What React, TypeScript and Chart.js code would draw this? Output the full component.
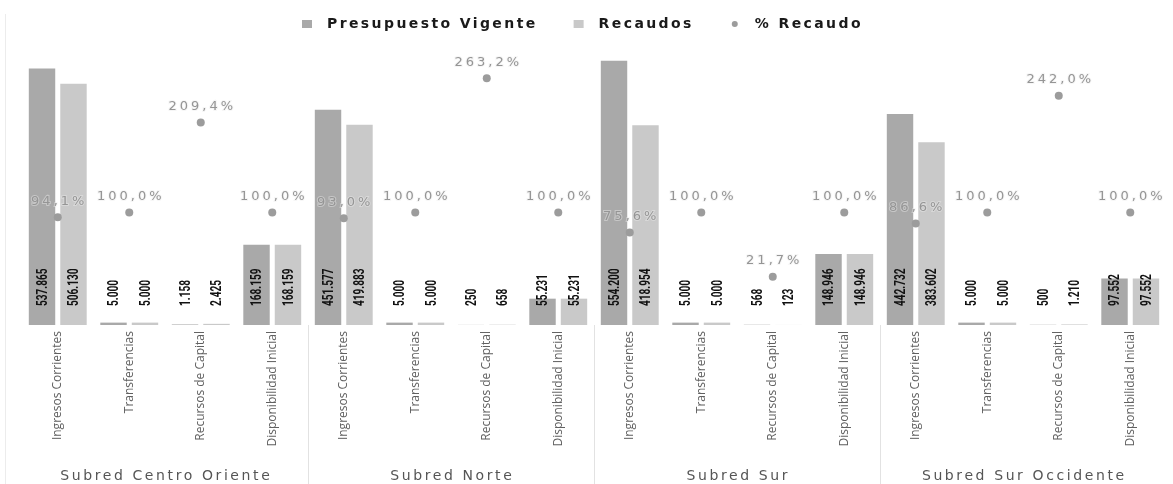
import React, { useEffect, useRef } from "react";
import { Chart, registerables } from "chart.js";

Chart.register(...registerables);

const groups = ["Subred Centro Oriente", "Subred Norte", "Subred Sur", "Subred Sur Occidente"];
const subcategories = ["Ingresos Corrientes", "Transferencias", "Recursos de Capital", "Disponibilidad Inicial"];
const presupuestoVigente = [537865, 5000, 1158, 168159, 451577, 5000, 250, 55231, 554200, 5000, 568, 148946, 442732, 5000, 500, 97552];
const recaudos = [506130, 5000, 2425, 168159, 419883, 5000, 658, 55231, 418954, 5000, 123, 148946, 383602, 5000, 1210, 97552];
const pctRecaudo = [94.1, 100.0, 209.4, 100.0, 93.0, 100.0, 263.2, 100.0, 75.6, 100.0, 21.7, 100.0, 86.6, 100.0, 242.0, 100.0];
const seriesNames = ["Presupuesto Vigente", "Recaudos", "% Recaudo"];

const categoryLabels = groups.flatMap((g) => subcategories.map((s) => [s, g]));

const fmtNum = (n: number) => String(n).replace(/\B(?=(\d{3})+(?!\d))/g, ".");
const fmtPct = (v: number) => v.toFixed(1).replace(".", ",") + "%";

const COLORS = ["#a9a9a9", "#c9c9c9", "#9c9c9c"];

const drawPlugin = {
  id: "customDraw",
  afterDatasetsDraw(chart: any) {
    const ctx = chart.ctx as CanvasRenderingContext2D;
    const area = chart.chartArea;
    const xScale = chart.scales.x;
    const yScale = chart.scales.y;
    const base = yScale.getPixelForValue(0);
    const n = categoryLabels.length;
    const step = (area.right - area.left) / n;

    // value labels on bars
    [0, 1].forEach((di) => {
      const meta = chart.getDatasetMeta(di);
      const values = di === 0 ? presupuestoVigente : recaudos;
      meta.data.forEach((el: any, i: number) => {
        ctx.save();
        ctx.translate(el.x, base - 19);
        ctx.rotate(-Math.PI / 2);
        ctx.scale(0.72, 1.05);
        ctx.font = "bold 14px Roboto, 'Liberation Sans', sans-serif";
        ctx.fillStyle = "#111";
        ctx.textAlign = "left";
        ctx.textBaseline = "middle";
        ctx.fillText(fmtNum(values[i]), 0, 1);
        ctx.restore();
      });
    });

    // percentage labels
    const pmeta = chart.getDatasetMeta(2);
    pmeta.data.forEach((el: any, i: number) => {
      ctx.save();
      ctx.font = "13px 'DejaVu Sans', sans-serif";
      (ctx as any).letterSpacing = "3px";
      ctx.textAlign = "center";
      ctx.textBaseline = "middle";
      ctx.lineWidth = 2;
      ctx.strokeStyle = "rgba(235,235,235,0.45)";
      const t = fmtPct(pctRecaudo[i]);
      ctx.strokeText(t, el.x + 1.5, el.y - 16);
      ctx.fillStyle = "#959595";
      ctx.fillText(t, el.x + 1.5, el.y - 16);
      ctx.restore();
    });

    // category labels (rotated)
    categoryLabels.forEach((lab, i) => {
      const x = xScale.getPixelForValue(i);
      ctx.save();
      ctx.translate(x, base + 6);
      ctx.rotate(-Math.PI / 2);
      ctx.font = "12px 'Open Sans', sans-serif";
      ctx.fillStyle = "#606060";
      ctx.textAlign = "right";
      ctx.textBaseline = "middle";
      ctx.fillText(lab[0], 0, 0);
      ctx.restore();
    });

    // group separators & labels
    ctx.save();
    ctx.strokeStyle = "#e2e2e2";
    ctx.lineWidth = 1;
    for (let g = 1; g < groups.length; g++) {
      const x = Math.round(area.left + g * 4 * step) + 0.5;
      ctx.beginPath();
      ctx.moveTo(x, base);
      ctx.lineTo(x, 484);
      ctx.stroke();
    }
    ctx.strokeStyle = "#ececec";
    ctx.beginPath();
    ctx.moveTo(5.5, 14);
    ctx.lineTo(5.5, 484);
    ctx.stroke();
    ctx.restore();

    groups.forEach((g, gi) => {
      const cx = area.left + (gi * 4 + 2) * step;
      ctx.save();
      ctx.font = "14px 'DejaVu Sans', sans-serif";
      (ctx as any).letterSpacing = "2.6px";
      ctx.fillStyle = "#555";
      ctx.textAlign = "center";
      ctx.textBaseline = "middle";
      ctx.fillText(g, cx + 1.3, 476);
      ctx.restore();
    });

    // legend
    ctx.save();
    ctx.font = "bold 14px 'DejaVu Sans', sans-serif";
    (ctx as any).letterSpacing = "2.4px";
    ctx.textBaseline = "middle";
    ctx.textAlign = "left";
    const ly = 24;
    const itemGap = 36;
    const textOff = 25;
    const widths = seriesNames.map((s) => ctx.measureText(s).width);
    const total = widths.reduce((a, b) => a + b, 0) + seriesNames.length * textOff + itemGap * (seriesNames.length - 1);
    let lx = Math.round(chart.width / 2 - total / 2) - 4;
    seriesNames.forEach((s, i) => {
      if (i < 2) {
        ctx.fillStyle = COLORS[i];
        ctx.fillRect(lx, ly - 4, 10, 8);
      } else {
        ctx.fillStyle = COLORS[2];
        ctx.beginPath();
        ctx.arc(lx + 5, ly, 3, 0, Math.PI * 2);
        ctx.fill();
      }
      ctx.fillStyle = "#1a1a1a";
      ctx.fillText(s, lx + textOff, ly);
      lx += textOff + widths[i] + itemGap;
    });
    ctx.restore();
  },
};

export default function App() {
  const ref = useRef<HTMLCanvasElement | null>(null);
  useEffect(() => {
    if (!ref.current) return;
    const chart = new Chart(ref.current, {
      type: "bar",
      data: {
        labels: categoryLabels.map((l) => l[0]),
        datasets: [
          {
            label: seriesNames[0],
            data: presupuestoVigente,
            backgroundColor: COLORS[0],
            categoryPercentage: 0.88,
            barPercentage: 0.84,
            yAxisID: "y",
            order: 2,
          } as any,
          {
            label: seriesNames[1],
            data: recaudos,
            backgroundColor: COLORS[1],
            categoryPercentage: 0.88,
            barPercentage: 0.84,
            yAxisID: "y",
            order: 2,
          },
          {
            type: "line",
            label: seriesNames[2],
            data: pctRecaudo,
            showLine: false,
            pointRadius: 4,
            pointBackgroundColor: COLORS[2],
            pointBorderWidth: 0,
            borderColor: COLORS[2],
            yAxisID: "y1",
            order: 1,
          },
        ],
      },
      options: {
        responsive: true,
        maintainAspectRatio: false,
        animation: false,
        layout: { padding: { left: 22, right: 7, top: 39, bottom: 159 } },
        scales: {
          x: { display: false, grid: { display: false } },
          y: { display: false, min: 0, max: 600000 },
          y1: { display: false, min: -37, max: 311, position: "right" },
        },
        plugins: {
          legend: { display: false },
          tooltip: { enabled: false },
          title: { display: false },
        },
      },
      plugins: [drawPlugin],
    });
    return () => chart.destroy();
  }, []);
  return (
    <div style={{ position: "absolute", left: 0, top: 0, width: 1173, height: 484, background: "#fff" }}>
      <canvas ref={ref} />
    </div>
  );
}
